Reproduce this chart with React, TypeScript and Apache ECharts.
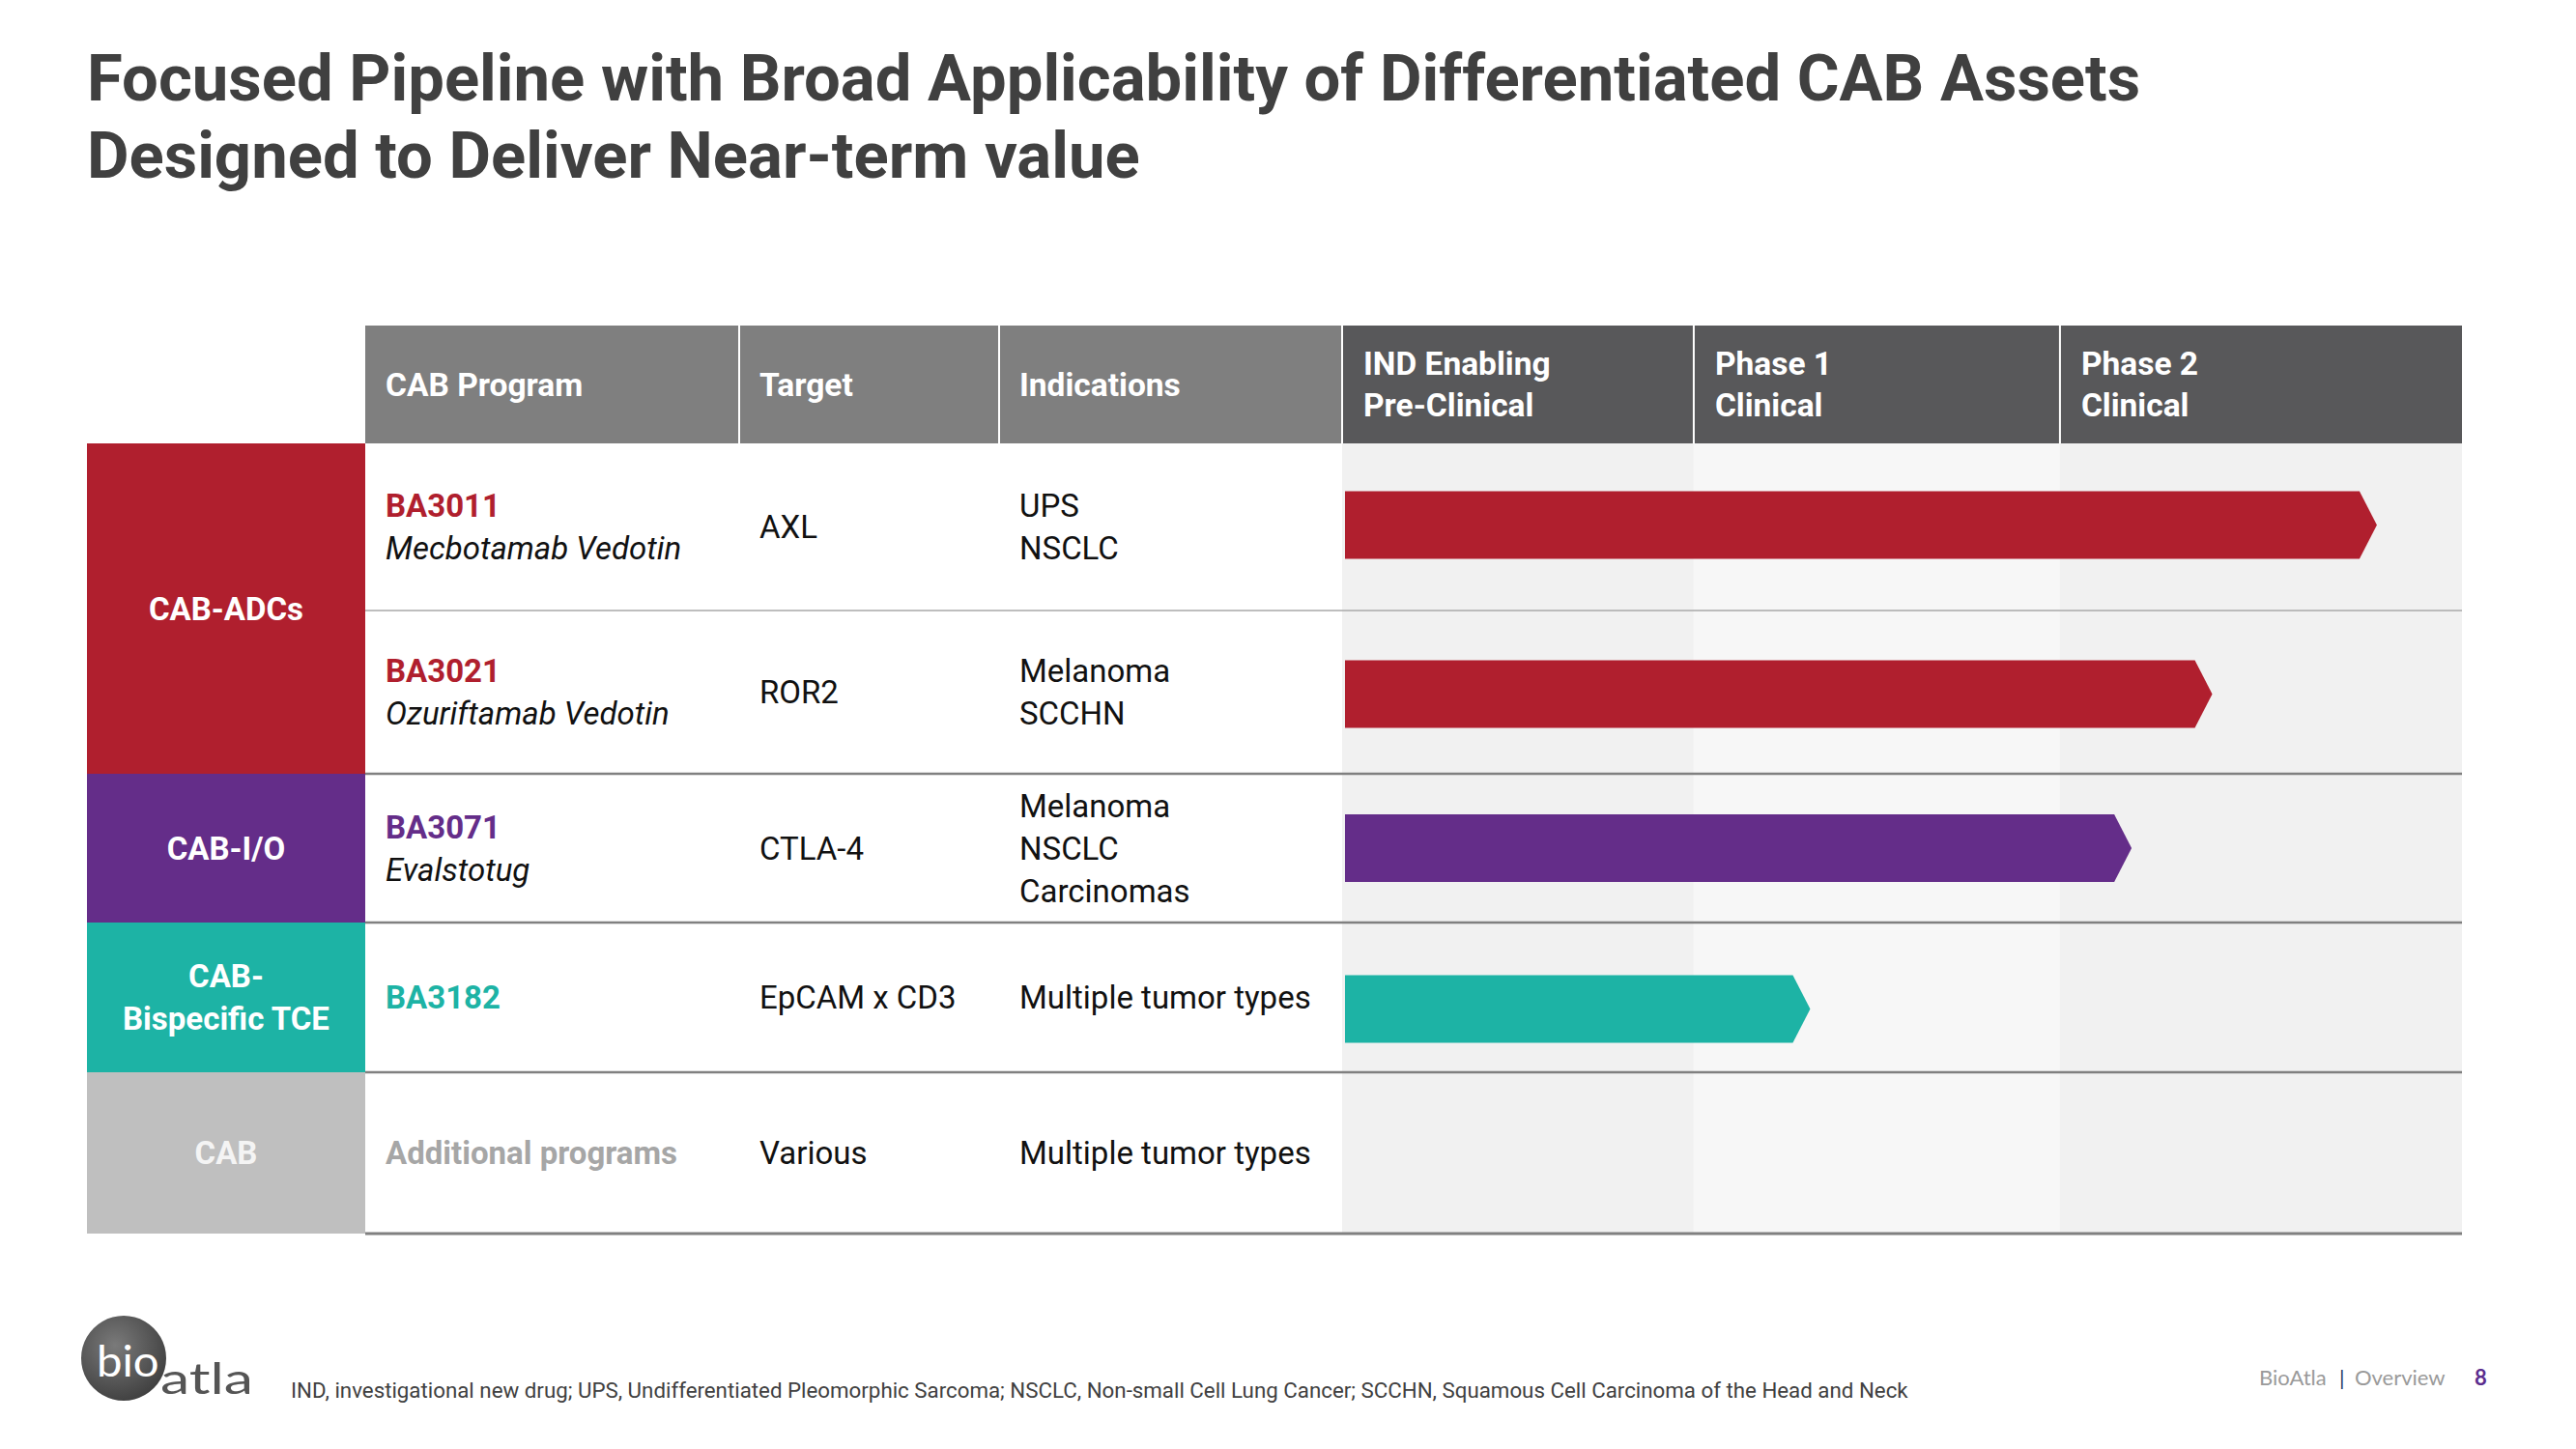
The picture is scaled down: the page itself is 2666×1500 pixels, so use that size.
import React, { useEffect, useRef } from 'react';
import * as echarts from 'echarts';

// ---------- data ----------
const titleLines = [
  'Focused Pipeline with Broad Applicability of Differentiated CAB Assets',
  'Designed to Deliver Near-term value',
];
const tableHeaders = ['CAB Program', 'Target', 'Indications'];
const phaseHeaders = ['IND Enabling\nPre-Clinical', 'Phase 1\nClinical', 'Phase 2\nClinical'];
// phase column edges on the progress scale (0 = start of IND enabling, 100 = end of Phase 2 column)
const phaseEdges = [0, 31.4, 64.1, 100];

const groupLabels = ['CAB-ADCs', 'CAB-I/O', 'CAB-\nBispecific TCE', 'CAB'];
const groupColors = ['#b01f2e', '#642d89', '#1db3a5', '#bfbfbf'];
const rowGroups = [0, 0, 1, 2, 3];
const programs = ['BA3011', 'BA3021', 'BA3071', 'BA3182', 'Additional programs'];
const programNames = ['Mecbotamab Vedotin', 'Ozuriftamab Vedotin', 'Evalstotug', '', ''];
const targets = ['AXL', 'ROR2', 'CTLA-4', 'EpCAM x CD3', 'Various'];
const indications = [
  ['UPS', 'NSCLC'],
  ['Melanoma', 'SCCHN'],
  ['Melanoma', 'NSCLC', 'Carcinomas'],
  ['Multiple tumor types'],
  ['Multiple tumor types'],
];
// bar tip position on the progress scale (null = no bar)
const progress = [92.4, 77.7, 70.5, 41.8, null];

const footnote =
  'IND, investigational new drug; UPS, Undifferentiated Pleomorphic Sarcoma; NSCLC, Non-small Cell Lung Cancer; SCCHN, Squamous Cell Carcinoma of the Head and Neck';

// ---------- layout ----------
const FONT = 'Roboto';
const TABLE_TOP = 337;
const HEADER_H = 122;
const BODY_TOP = TABLE_TOP + HEADER_H;
const ROW_H = [173, 169, 154, 155, 167];
const BAR_SHIFT = [-2, 2, 0, 12, 0]; // small vertical nudges of the bars inside their rows (px)
const LEFT_X = 90;
const COL_X = [378, 765, 1034, 1389];
const TRACK_RIGHT = 2548;
const TRACK_W = TRACK_RIGHT - COL_X[3];
const BODY_H = ROW_H.reduce((a, b) => a + b, 0);
const BAR_H = 70;
const TIP = 18;
const LINE_H = 44;
const PAD = 21;
const BODY_FS = 33;
const HEAD_FS = 33.5;

const rowTops: number[] = [];
ROW_H.reduce((acc, h) => {
  rowTops.push(acc);
  return acc + h;
}, 0);
const rowCenters = ROW_H.map((h, i) => rowTops[i] + h / 2);

function txt(x: number, y: number, text: string, opts: any = {}) {
  const el: any = {
    type: 'text',
    x,
    y,
    z: 20,
    style: {
      text,
      fill: opts.fill || '#111111',
      fontFamily: opts.fontFamily || FONT,
      fontSize: opts.fontSize || BODY_FS,
      fontWeight: opts.fontWeight || 'normal',
      fontStyle: opts.fontStyle || 'normal',
      align: opts.align || 'left',
      verticalAlign: 'middle',
      lineHeight: opts.lineHeight || LINE_H,
    },
  };
  if (opts.scaleX) el.scaleX = opts.scaleX;
  return el;
}

function linesAt(x: number, yc: number, lines: { text: string; opts?: any }[]) {
  const n = lines.length;
  return lines.map((l, k) => txt(x, yc + (k - (n - 1) / 2) * LINE_H, l.text, l.opts || {}));
}

function buildGraphic() {
  const g: any[] = [];
  // title
  titleLines.forEach((t, i) =>
    g.push(txt(LEFT_X, 81 + i * 80, t, { fontSize: 67, fontWeight: 'bold', fill: '#404040' }))
  );
  // table headers (grey)
  tableHeaders.forEach((h, i) => {
    g.push({
      type: 'rect',
      z: 5,
      shape: { x: COL_X[i], y: TABLE_TOP, width: COL_X[i + 1] - COL_X[i], height: HEADER_H },
      style: { fill: '#7f7f7f' },
    });
    g.push(txt(COL_X[i] + PAD, TABLE_TOP + HEADER_H / 2, h, { fill: '#ffffff', fontWeight: 'bold', fontSize: HEAD_FS }));
  });
  // header separators
  const seps = [COL_X[1], COL_X[2], COL_X[3]].concat(
    phaseEdges.slice(1, -1).map((e) => COL_X[3] + (e / 100) * TRACK_W)
  );
  seps.forEach((x) =>
    g.push({
      type: 'rect',
      z: 30,
      shape: { x: x - 1, y: TABLE_TOP, width: 2, height: HEADER_H },
      style: { fill: '#ffffff' },
    })
  );
  // left group blocks
  groupLabels.forEach((label, gi) => {
    const rows = rowGroups.map((rg, i) => (rg === gi ? i : -1)).filter((i) => i >= 0);
    const top = BODY_TOP + rowTops[rows[0]];
    const bottom = BODY_TOP + rowTops[rows[rows.length - 1]] + ROW_H[rows[rows.length - 1]];
    g.push({
      type: 'rect',
      z: 5,
      shape: { x: LEFT_X, y: top, width: COL_X[0] - LEFT_X, height: bottom - top },
      style: { fill: groupColors[gi] },
    });
    g.push(
      txt((LEFT_X + COL_X[0]) / 2, (top + bottom) / 2, label, {
        fill: gi === 3 ? '#f4f4f4' : '#ffffff',
        fontWeight: 'bold',
        align: 'center',
      })
    );
  });
  // rows text
  programs.forEach((p, i) => {
    const yc = BODY_TOP + rowCenters[i];
    const gi = rowGroups[i];
    const pColor = gi === 3 ? '#a6a6a6' : groupColors[gi];
    const progLines: { text: string; opts?: any }[] = [{ text: p, opts: { fill: pColor, fontWeight: 'bold' } }];
    if (programNames[i]) progLines.push({ text: programNames[i], opts: { fontStyle: 'italic' } });
    g.push(...linesAt(COL_X[0] + PAD, yc, progLines));
    g.push(...linesAt(COL_X[1] + PAD, yc, [{ text: targets[i] }]));
    g.push(...linesAt(COL_X[2] + PAD, yc, indications[i].map((t) => ({ text: t }))));
  });
  // row separator lines
  ROW_H.forEach((h, i) => {
    const y = BODY_TOP + rowTops[i] + h;
    const last = i === ROW_H.length - 1;
    const sameGroup = !last && rowGroups[i] === rowGroups[i + 1];
    g.push({
      type: 'line',
      z: 25,
      shape: { x1: COL_X[0], y1: y, x2: TRACK_RIGHT, y2: y },
      style: {
        stroke: sameGroup ? '#a8a8a8' : '#808080',
        lineWidth: sameGroup ? 1.5 : last ? 3 : 2.5,
      },
    });
  });
  // footer: logo
  g.push({
    type: 'circle',
    z: 10,
    shape: { cx: 128, cy: 1406, r: 44 },
    style: {
      fill: new echarts.graphic.RadialGradient(0.4, 0.35, 0.75, [
        { offset: 0, color: '#7a7a7a' },
        { offset: 1, color: '#3a3a3a' },
      ]),
    },
  });
  g.push(txt(100, 1407, 'bio', { fill: '#ffffff', fontSize: 45, fontFamily: 'Lato', scaleX: 1.05 }));
  g.push(txt(166, 1426, 'atla', { fill: '#555555', fontSize: 44, fontFamily: 'Lato', scaleX: 1.38 }));
  // footnote
  g.push(txt(301, 1439, footnote, { fill: '#404040', fontSize: 22.3 }));
  // page footer
  g.push(txt(2338, 1425, 'BioAtla', { fill: '#9a9a9a', fontSize: 22, fontFamily: 'Lato' }));
  g.push(txt(2421, 1425, '|', { fill: '#1f3864', fontSize: 22, fontFamily: 'Lato' }));
  g.push(txt(2437, 1425, 'Overview', { fill: '#9a9a9a', fontSize: 22, fontFamily: 'Lato' }));
  g.push(txt(2561, 1425, '8', { fill: '#5b2d8e', fontSize: 22, fontFamily: 'Lato', fontWeight: 'bold' }));
  return g;
}

const bandFills = ['#f1f1f1', '#f7f7f7', '#f1f1f1'];

export default function App() {
  const ref = useRef<HTMLDivElement>(null);
  useEffect(() => {
    if (!ref.current) return;
    const chart = echarts.init(ref.current, undefined, { renderer: 'svg' });
    const bandData = phaseHeaders.map((_, i) => [phaseEdges[i], phaseEdges[i + 1], i]);
    const barData = progress
      .map((v, i) => (v == null ? null : [v, rowCenters[i] + BAR_SHIFT[i], rowGroups[i]]))
      .filter((d) => d !== null);
    chart.setOption({
      animation: false,
      backgroundColor: '#ffffff',
      grid: { left: COL_X[3], top: BODY_TOP, width: TRACK_W, height: BODY_H, containLabel: false },
      xAxis: { type: 'value', min: 0, max: 100, show: false },
      yAxis: { type: 'value', min: 0, max: BODY_H, inverse: true, show: false },
      series: [
        {
          type: 'custom',
          z: 1,
          silent: true,
          clip: false,
          data: bandData,
          renderItem: (params: any, api: any) => {
            const s = api.value(0);
            const e = api.value(1);
            const idx = api.value(2);
            const p0 = api.coord([s, 0]);
            const p1 = api.coord([e, BODY_H]);
            return {
              type: 'group',
              children: [
                {
                  type: 'rect',
                  shape: { x: p0[0], y: p0[1], width: p1[0] - p0[0], height: p1[1] - p0[1] },
                  style: { fill: bandFills[idx % bandFills.length] },
                },
                {
                  type: 'rect',
                  shape: { x: p0[0], y: p0[1] - HEADER_H, width: p1[0] - p0[0], height: HEADER_H },
                  style: { fill: '#58585a' },
                },
                {
                  type: 'text',
                  x: p0[0] + 22,
                  y: p0[1] - HEADER_H / 2,
                  style: {
                    text: phaseHeaders[idx],
                    fill: '#ffffff',
                    fontFamily: FONT,
                    fontSize: HEAD_FS,
                    fontWeight: 'bold',
                    lineHeight: 43,
                    align: 'left',
                    verticalAlign: 'middle',
                  },
                },
              ],
            };
          },
        },
        {
          type: 'custom',
          z: 3,
          clip: false,
          data: barData,
          renderItem: (params: any, api: any) => {
            const v = api.value(0);
            const yc = api.value(1);
            const gi = api.value(2);
            const end = api.coord([v, yc]);
            const start = api.coord([0, yc]);
            const x0 = start[0] + 3;
            const y = end[1];
            return {
              type: 'polygon',
              shape: {
                points: [
                  [x0, y - BAR_H / 2],
                  [end[0] - TIP, y - BAR_H / 2],
                  [end[0], y],
                  [end[0] - TIP, y + BAR_H / 2],
                  [x0, y + BAR_H / 2],
                ],
              },
              style: { fill: groupColors[gi] },
            };
          },
        },
      ],
      graphic: buildGraphic(),
    });
    return () => chart.dispose();
  }, []);
  return (
    <div
      ref={ref}
      style={{ position: 'fixed', left: 0, top: 0, width: 2666, height: 1500, background: '#ffffff' }}
    />
  );
}
